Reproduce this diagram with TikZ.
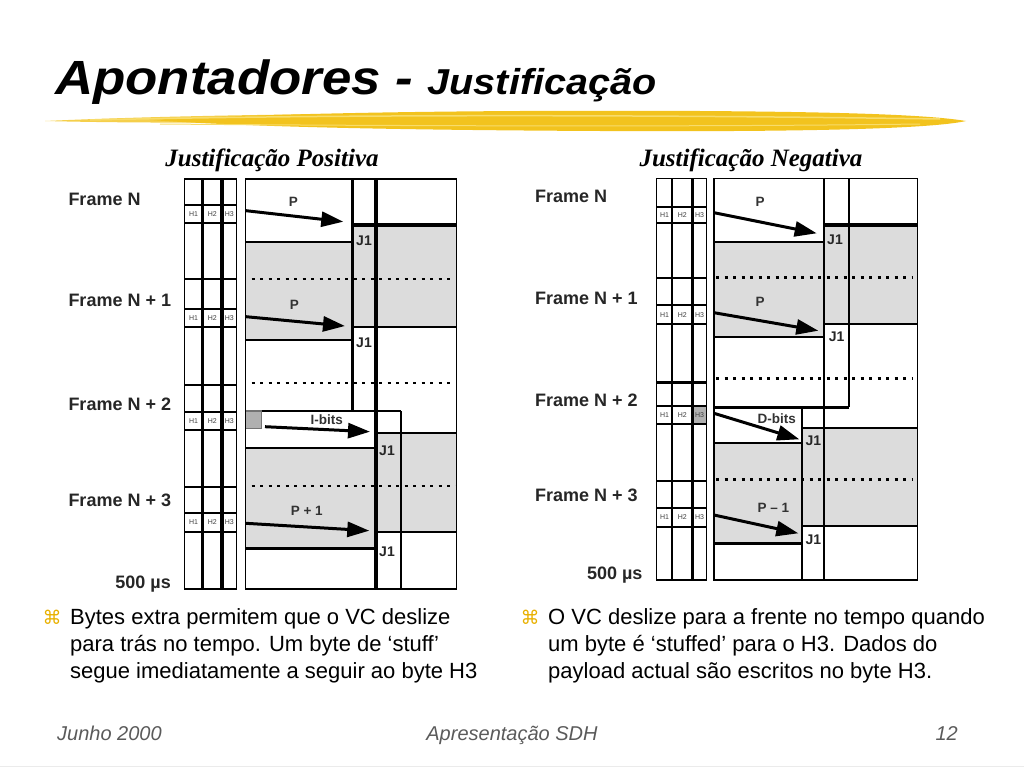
\documentclass[tikz,border=0pt]{standalone}
\usepackage{fontspec}
\setmainfont{Liberation Sans}
\newfontfamily\serifhead{Liberation Serif}
\newfontfamily\symfont{DejaVu Sans}
\usetikzlibrary{arrows.meta}
\definecolor{brushyellow}{HTML}{F2C31E}
\definecolor{brushlight}{HTML}{F8DC6A}
\definecolor{bulletgold}{HTML}{E8B000}
\definecolor{footgray}{HTML}{5A5A5A}
\definecolor{cellgray}{HTML}{DCDCDC}
\definecolor{bitgray}{HTML}{B0B0B0}
\begin{document}
\begin{tikzpicture}[x=1pt, y=-1pt,
        fr/.style={anchor=west, inner sep=0pt, font=\fontsize{18}{20}\selectfont\bfseries, text=black!85},
        hc/.style={inner sep=0pt, font=\fontsize{7}{8}\selectfont, text=black!75},
        jl/.style={inner sep=0pt, font=\fontsize{14}{15}\selectfont\bfseries, text=black!85},
        pl/.style={inner sep=0pt, font=\fontsize{13.5}{14}\selectfont\bfseries, text=black!80},
        ptr/.style={line width=3pt, -{Triangle[length=22pt,width=15pt]}},
        grid/.style={line width=1.3pt},
        bar/.style={line width=2.2pt},
        heavy/.style={line width=3.5pt},
        dots/.style={line width=2.4pt, dash pattern=on 3pt off 5.5pt},
        hd/.style={anchor=base, inner sep=0pt, font=\serifhead\fontsize{25}{27}\selectfont\bfseries\itshape},
        bl/.style={anchor=base west, inner sep=0pt, font=\fontsize{22}{27}\selectfont},
        bu/.style={inner sep=0pt, font=\symfont\fontsize{19}{19}\selectfont, text=bulletgold},
        ft/.style={anchor=base, inner sep=0pt, font=\fontsize{20}{22}\selectfont\itshape, text=footgray}
    ]
    \useasboundingbox (0,0) rectangle (1024,768);

    % title and brush stroke
    \node[anchor=base west, inner sep=0pt] (title) at (55,94)
        {\scalebox{1.1}[1]{\fontsize{48}{52}\selectfont\bfseries\itshape Apontadores - \fontsize{36}{40}\selectfont Justificação}};
    \fill[brushyellow!80!white] (45,121) .. controls (200,114) and (400,113) .. (500,114)
        .. controls (450,121) and (200,125) .. (45,121) -- cycle;
    \fill[brushyellow] (150,120) .. controls (300,112) and (500,110) .. (700,111)
        .. controls (850,112) and (930,115) .. (966,121)
        .. controls (930,129) and (800,132) .. (600,131)
        .. controls (400,130) and (250,127) .. (150,120) -- cycle;
    \draw[brushlight, line width=1.5pt] (90,120) .. controls (300,115) and (600,114) .. (940,119);
    \draw[brushlight, line width=1pt] (160,124) .. controls (400,126) and (700,127) .. (920,124);

    \node[hd] (hpos) at (272,166) {Justificação Positiva};
    \node[hd] (hneg) at (751,166) {Justificação Negativa};

    % ---- positive justification
    \node[fr] (ln0) at (68.3,199.3) {Frame N};
    \node[fr] (ln1) at (68.3,300)   {Frame N + 1};
    \node[fr] (ln2) at (68.3,404)   {Frame N + 2};
    \node[fr] (ln3) at (68.3,500.7) {Frame N + 3};
    \node[fr, anchor=base east] (lus) at (171,588) {500 µs};

    \draw[grid] (184.5,179) rectangle (236.7,589);
    \draw[heavy] (202.7,179) -- (202.7,589) (222,179) -- (222,589);
    \foreach \y in {205,223,279,309,327,385,412,430,487,513,532}
        \draw[bar] (184.5,\y) -- (236.7,\y);
    \foreach \y [count=\k] in {214,318,421,522} {
        \node[hc] (lh1\k) at (193.6,\y) {H1};
        \node[hc] (lh2\k) at (212.4,\y) {H2};
        \node[hc] (lh3\k) at (229.4,\y) {H3};
    }

    \fill[cellgray] (245.7,241.7) rectangle (352.3,340);
    \fill[cellgray] (352.3,225) rectangle (456.7,326.7);
    \fill[cellgray] (245.7,448.3) rectangle (376,548.3);
    \fill[cellgray] (376,433.3) rectangle (456.7,531.7);
    \draw[grid, fill=bitgray, draw=black!55] (245.7,411) rectangle (261.7,428.3);
    \draw[grid] (245.7,179) rectangle (456.7,589);
    \draw[dots] (251.7,279) -- (450,279);
    \draw[dots] (251.7,383) -- (450,383);
    \draw[dots] (251.7,485.7) -- (456,485.7);
    \draw[heavy] (352.3,179) -- (352.3,411) (376,179) -- (376,589);
    \draw[bar] (401,411) -- (401,589);
    \draw[heavy] (352.3,225) -- (456.7,225);
    \draw[bar] (245.7,241.7) -- (352.3,241.7) (352.3,326.7) -- (456.7,326.7);
    \draw[bar] (245.7,340) -- (352.3,340) (261.7,411) -- (401,411);
    \draw[bar] (376,433.3) -- (456.7,433.3) (245.7,448.3) -- (376,448.3);
    \draw[bar] (376,531.7) -- (456.7,531.7);
    \draw[heavy] (245.7,548.3) -- (376,548.3);

    \coordinate (la1) at (246,210.7);  \coordinate (lb1) at (343.3,221.7);
    \coordinate (la2) at (246,316.7);  \coordinate (lb2) at (345,326);
    \coordinate (la3) at (265,426.7);  \coordinate (lb3) at (370,431.7);
    \coordinate (la4) at (246,523.3);  \coordinate (lb4) at (369.3,530.7);
    \draw[ptr] (la1) -- (lb1);
    \draw[ptr] (la2) -- (lb2);
    \draw[ptr] (la3) -- (lb3);
    \draw[ptr] (la4) -- (lb4);
    \node[pl] (lp1) at (293.3,202.3) {P};
    \node[pl] (lp2) at (294.3,305)   {P};
    \node[pl] (lp3) at (326.7,420)   {I-bits};
    \node[pl] (lp4) at (306.7,511)   {P + 1};
    \node[jl] (lj1) at (364,240.5) {J1};
    \node[jl] (lj2) at (364,343)   {J1};
    \node[jl] (lj3) at (387,450.5) {J1};
    \node[jl] (lj4) at (387,552)   {J1};

    % ---- negative justification
    \node[fr] (rn0) at (535,196.7) {Frame N};
    \node[fr] (rn1) at (535,298.3) {Frame N + 1};
    \node[fr] (rn2) at (535,400.7) {Frame N + 2};
    \node[fr] (rn3) at (535,495.7) {Frame N + 3};
    \node[fr, anchor=base east] (rus) at (642.7,579) {500 µs};

    \fill[bitgray] (692.3,406) rectangle (706.7,424.3);
    \draw[grid] (656.7,178.3) rectangle (706.7,580);
    \draw[bar] (672.3,178.3) -- (672.3,580);
    \draw[heavy] (692.3,178.3) -- (692.3,580);
    \foreach \y in {206.7,223.3,277.7,305,324.3,382.5,406,424.3,480.7,508.3,526.7}
        \draw[bar] (656.7,\y) -- (706.7,\y);
    \foreach \y [count=\k] in {215,314.7,415.2,517.5} {
        \node[hc] (rh1\k) at (664.5,\y) {H1};
        \node[hc] (rh2\k) at (682.3,\y) {H2};
        \node[hc] (rh3\k) at (699.5,\y) {H3};
    }

    \fill[cellgray] (714,241.7) rectangle (824.3,336.7);
    \fill[cellgray] (824.3,225) rectangle (917.7,324);
    \fill[cellgray] (714,443.3) rectangle (801.7,543.3);
    \fill[cellgray] (801.7,428.3) rectangle (917.7,526);
    \draw[grid] (714,178.3) rectangle (917.7,580);
    \draw[dots] (716,277.3) -- (913,277.3);
    \draw[dots] (716,378.3) -- (913,378.3);
    \draw[dots] (716,479.3) -- (913,479.3);
    \draw[bar] (824.3,178.3) -- (824.3,580) (849,178.3) -- (849,407.3);
    \draw[bar] (801.7,407.3) -- (801.7,580);
    \draw[heavy] (824.3,225) -- (917.7,225);
    \draw[bar] (714,241.7) -- (824.3,241.7) (824.3,324) -- (917.7,324);
    \draw[bar] (714,336.7) -- (824.3,336.7);
    \draw[heavy] (714,407.3) -- (849,407.3);
    \draw[bar] (801.7,428.3) -- (917.7,428.3) (714,443.3) -- (801.7,443.3);
    \draw[bar] (801.7,526) -- (917.7,526);
    \draw[heavy] (714,543.3) -- (801.7,543.3);

    \coordinate (ra1) at (714,212.7);  \coordinate (rb1) at (816.7,233.3);
    \coordinate (ra2) at (714,312.7);  \coordinate (rb2) at (818.3,330.7);
    \coordinate (ra3) at (714,413.3);  \coordinate (rb3) at (799.3,439.3);
    \coordinate (ra4) at (714,515);    \coordinate (rb4) at (798.3,533.3);
    \draw[ptr] (ra1) -- (rb1);
    \draw[ptr] (ra2) -- (rb2);
    \draw[ptr] (ra3) -- (rb3);
    \draw[ptr] (ra4) -- (rb4);
    \node[pl] (rp1) at (760,202.3)   {P};
    \node[pl] (rp2) at (760,301.7)   {P};
    \node[pl] (rp3) at (776.7,418.3) {D-bits};
    \node[pl] (rp4) at (773.3,507.7) {P -- 1};
    \node[jl] (rj1) at (835,240)     {J1};
    \node[jl] (rj2) at (836.7,336.7) {J1};
    \node[jl] (rj3) at (813.3,441)   {J1};
    \node[jl] (rj4) at (813.3,540)   {J1};

    % bullets and footer
    \node[bu] (bu1) at (52,617)  {⌘};
    \node[bl] (t11) at (70,624)  {Bytes extra permitem que o VC deslize};
    \node[bl] (t12) at (70,651)  {para trás no tempo. Um byte de ‘stuff’};
    \node[bl] (t13) at (70,678)  {segue imediatamente a seguir ao byte H3};
    \node[bu] (bu2) at (530,617) {⌘};
    \node[bl] (t21) at (548,624) {O VC deslize para a frente no tempo quando};
    \node[bl] (t22) at (548,651) {um byte é ‘stuffed’ para o H3. Dados do};
    \node[bl] (t23) at (548,678) {payload actual são escritos no byte H3.};

    \node[ft, anchor=base west] (fdate) at (57,740)  {Junho 2000};
    \node[ft] (fmid) at (512,740) {Apresentação SDH};
    \node[ft, anchor=base east] (fpage) at (958,740) {12};
    \draw[black!8, line width=1pt] (0,766) -- (1024,766);
\end{tikzpicture}
\end{document}
